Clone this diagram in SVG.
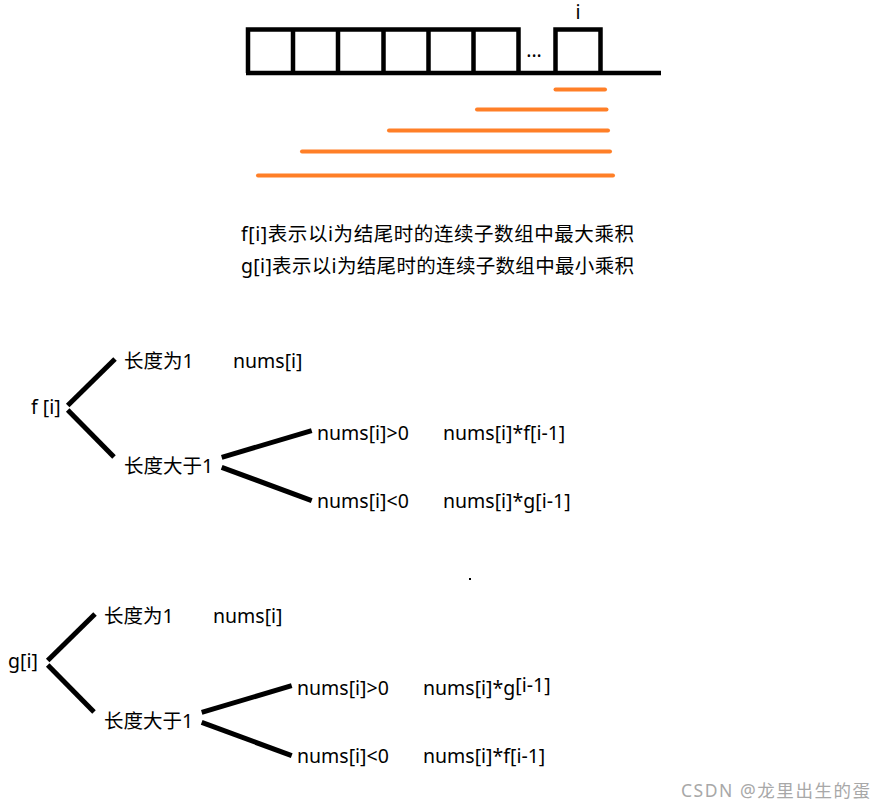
<svg xmlns="http://www.w3.org/2000/svg" width="884" height="809" viewBox="0 0 884 809">
<style>
.t{font-family:"Noto Sans","Noto Sans CJK SC",sans-serif;font-size:19.5px;fill:#000}
.arr{fill:none;stroke:#000;stroke-width:4.5}
.seg{stroke:#FF7F27;stroke-width:4;stroke-linecap:round}
.c{stroke:#000;stroke-width:5;stroke-linecap:butt}
.wm{font-family:"Noto Sans","Noto Sans CJK SC",sans-serif;font-size:17.5px;fill:#A8A8A8}
</style>
<rect width="884" height="809" fill="#fff"/>
<g id="array">
  <path class="arr" d="M248,73 V29.5 H518.5 V73 M293,29.5 V73 M338,29.5 V73 M383.5,29.5 V73 M428.5,29.5 V73 M473.5,29.5 V73 M555.5,73 V29.5 H600.5 V73 M246,73 H661"/>
  <text class="t" x="534" y="57" font-size="14" text-anchor="middle">...</text>
  <text class="t" x="578" y="19" text-anchor="middle">i</text>
</g>
<g id="segments">
  <line class="seg" x1="555.5" y1="89.5" x2="605" y2="89.5"/>
  <line class="seg" x1="477" y1="109.5" x2="606.5" y2="109.5"/>
  <line class="seg" x1="389" y1="130.5" x2="608" y2="130.5"/>
  <line class="seg" x1="302" y1="151.5" x2="610" y2="151.5"/>
  <line class="seg" x1="258" y1="175.5" x2="613" y2="175.5"/>
</g>
<g id="desc">
  <text class="t" x="241" y="241" font-size="20" textLength="393" lengthAdjust="spacing">f[i]表示以i为结尾时的连续子数组中最大乘积</text>
  <text class="t" x="241" y="273" font-size="20" textLength="393" lengthAdjust="spacing">g[i]表示以i为结尾时的连续子数组中最小乘积</text>
</g>
<g id="connectors">
  <line class="c" x1="67.7" y1="405.5" x2="115" y2="359"/>
  <line class="c" x1="67.7" y1="410" x2="114" y2="457"/>
  <line class="c" x1="221.7" y1="457.3" x2="311.7" y2="430.7"/>
  <line class="c" x1="221.7" y1="467.3" x2="311.7" y2="500.7"/>
  <line class="c" x1="47.7" y1="660.5" x2="95" y2="614"/>
  <line class="c" x1="47.7" y1="665" x2="94" y2="712"/>
  <line class="c" x1="201.7" y1="712.3" x2="291.7" y2="685.7"/>
  <line class="c" x1="201.7" y1="722.3" x2="291.7" y2="755.7"/>
</g>
<g id="f-root"><text class="t" x="31" y="414">f [i]</text></g>
<g id="f-len1"><text class="t" x="124" y="368">长度为1</text><text class="t" x="233" y="368">nums[i]</text></g>
<g id="f-lengt1"><text class="t" x="124" y="473">长度大于1</text></g>
<g id="f-pos"><text class="t" x="317" y="440">nums[i]&gt;0</text><text class="t" x="443" y="440">nums[i]*f[i-1]</text></g>
<g id="f-neg"><text class="t" x="317" y="508">nums[i]&lt;0</text><text class="t" x="443" y="508">nums[i]*g[i-1]</text></g>
<g id="g-root"><text class="t" x="8" y="668">g[i]</text></g>
<g id="g-len1"><text class="t" x="104" y="623">长度为1</text><text class="t" x="213" y="623">nums[i]</text></g>
<g id="g-lengt1"><text class="t" x="104" y="728">长度大于1</text></g>
<g id="g-pos"><text class="t" x="297" y="695">nums[i]&gt;0</text><text class="t" x="423" y="695">nums[i]*g<tspan dy="-3">[i-1]</tspan></text></g>
<g id="g-neg"><text class="t" x="297" y="763">nums[i]&lt;0</text><text class="t" x="423" y="763">nums[i]*f[i-1]</text></g>
<rect x="469" y="578" width="2" height="2" fill="#000"/>
<text class="wm" x="681" y="797" textLength="189" lengthAdjust="spacing">CSDN @龙里出生的蛋</text>
</svg>
